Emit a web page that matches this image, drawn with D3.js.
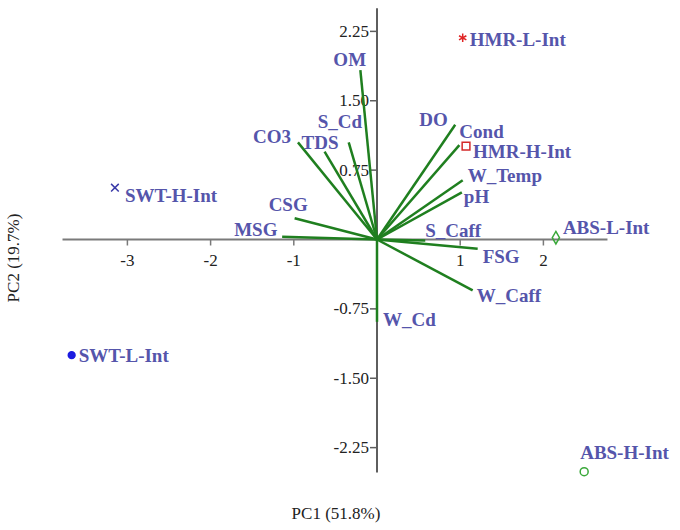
<!DOCTYPE html>
<html>
<head>
<meta charset="utf-8">
<script src="https://cdn.jsdelivr.net/npm/d3@7"></script>
<style>
  body { margin: 0; background: #fff; }
  svg { display: block; }
</style>
</head>
<body>
<div id="chart"></div>
<script>
'use strict';

// loadings (variable vectors)
const loadNames = ['OM', 'S_Cd', 'TDS', 'CO3', 'CSG', 'MSG', 'DO', 'Cond', 'W_Temp', 'pH', 'S_Caff', 'FSG', 'W_Caff', 'W_Cd'];
const loadPC1 = [-0.20, -0.34, -0.63, -0.95, -0.99, -1.14, 0.94, 0.99, 1.03, 1.02, 0.58, 1.21, 1.15, 0.00];
const loadPC2 = [1.83, 1.05, 0.95, 1.05, 0.23, 0.03, 1.24, 1.02, 0.64, 0.51, -0.01, -0.10, -0.55, -0.89];

// scores (sites)
const scoreNames = ['HMR-L-Int', 'HMR-H-Int', 'SWT-H-Int', 'SWT-L-Int', 'ABS-L-Int', 'ABS-H-Int'];
const scorePC1 = [1.03, 1.07, -3.15, -3.67, 2.15, 2.49];
const scorePC2 = [2.18, 1.01, 0.56, -1.25, 0.02, -2.51];

// tick values
const xTicks = [-3, -2, -1, 1, 2];
const yTicks = [2.25, 1.50, 0.75, -0.75, -1.50, -2.25];

const xTitle = 'PC1 (51.8%)';
const yTitle = 'PC2 (19.7%)';

// label placement, pixels from the point
const labelOffset = {
    'OM': [-27, -4], 'S_Cd': [-31, -14], 'TDS': [-23, -3], 'CO3': [-45, 1],
    'CSG': [-26, -7], 'MSG': [-48, -1], 'DO': [-36, 1], 'Cond': [0, -7],
    'W_Temp': [5, 2], 'pH': [2, 11], 'S_Caff': [0, -3], 'FSG': [5, 14],
    'W_Caff': [4, 12], 'W_Cd': [6, 4],
    'HMR-L-Int': [7, 8], 'HMR-H-Int': [7, 12], 'SWT-H-Int': [10, 14],
    'SWT-L-Int': [7, 7], 'ABS-L-Int': [7, -4], 'ABS-H-Int': [-4, -13]
};

const W = 680, H = 530;

const svg = d3.select('#chart').append('svg')
    .attr('width', W)
    .attr('height', H);

// scales: 0 sits where the axes cross
const x = d3.scaleLinear().domain([0, 1]).range([377, 460.2]);
const y = d3.scaleLinear().domain([0, 1]).range([239.5, 147]);

const axisColor = '#7a7a7a';
const lineColor = '#1f7f1f';
const textColor = '#5555ab';
const serif = '"Liberation Serif", "Times New Roman", serif';

// horizontal axis
svg.append('line')
    .attr('x1', x(-3.78)).attr('x2', x(2.77))
    .attr('y1', y(0)).attr('y2', y(0))
    .attr('stroke', axisColor).attr('stroke-width', 2);

svg.selectAll('.xtick')
    .data(xTicks)
    .enter()
    .append('line')
    .attr('x1', d => x(d)).attr('x2', d => x(d))
    .attr('y1', y(0)).attr('y2', y(0) + 6)
    .attr('stroke', axisColor).attr('stroke-width', 1.5);

svg.selectAll('.xlab')
    .data(xTicks)
    .enter()
    .append('text')
    .attr('x', d => x(d))
    .attr('y', y(0) + 26)
    .attr('text-anchor', 'middle')
    .attr('font-family', serif)
    .attr('font-size', 17)
    .attr('fill', '#222')
    .text(d => String(d));

// vertical axis
svg.append('line')
    .attr('x1', x(0)).attr('x2', x(0))
    .attr('y1', y(2.5)).attr('y2', y(-2.52))
    .attr('stroke', '#5e5e5e').attr('stroke-width', 2);

svg.selectAll('.ytick')
    .data(yTicks)
    .enter()
    .append('line')
    .attr('x1', x(0) - 7).attr('x2', x(0))
    .attr('y1', d => y(d)).attr('y2', d => y(d))
    .attr('stroke', '#5e5e5e').attr('stroke-width', 1.5);

svg.selectAll('.ylab')
    .data(yTicks)
    .enter()
    .append('text')
    .attr('x', x(0) - 8)
    .attr('y', d => y(d))
    .attr('dy', '0.33em')
    .attr('text-anchor', 'end')
    .attr('font-family', serif)
    .attr('font-size', 17)
    .attr('fill', '#222')
    .text(d => d.toFixed(2));

// loading vectors
const loads = loadNames.map((n, i) => ({ name: n, pc1: loadPC1[i], pc2: loadPC2[i] }));

svg.selectAll('.load')
    .data(loads)
    .enter()
    .append('line')
    .attr('x1', x(0)).attr('y1', y(0))
    .attr('x2', d => x(d.pc1)).attr('y2', d => y(d.pc2))
    .attr('stroke', lineColor)
    .attr('stroke-width', 2.5);

svg.selectAll('.loadlab')
    .data(loads)
    .enter()
    .append('text')
    .attr('x', d => x(d.pc1) + labelOffset[d.name][0])
    .attr('y', d => y(d.pc2) + labelOffset[d.name][1])
    .attr('font-family', serif)
    .attr('font-weight', 'bold')
    .attr('font-size', 19)
    .attr('fill', textColor)
    .text(d => d.name);

// site scores
const scores = scoreNames.map((n, i) => ({ name: n, pc1: scorePC1[i], pc2: scorePC2[i] }));

const symbols = {
    'HMR-L-Int': { type: d3.symbolAsterisk, size: 50, fill: 'none', stroke: '#e02424' },
    'HMR-H-Int': { type: d3.symbolSquare, size: 60, fill: 'none', stroke: '#d42a2a' },
    'SWT-H-Int': { type: d3.symbolTimes, size: 40, fill: 'none', stroke: '#3a3aa8' },
    'SWT-L-Int': { type: d3.symbolCircle, size: 36, fill: '#1c1ce0', stroke: '#1c1ce0' },
    'ABS-L-Int': { type: d3.symbolDiamond, size: 45, fill: 'none', stroke: '#3aa83a' },
    'ABS-H-Int': { type: d3.symbolCircle, size: 50, fill: 'none', stroke: '#3aa83a' }
};

svg.selectAll('.score')
    .data(scores)
    .enter()
    .append('path')
    .attr('transform', d => `translate(${x(d.pc1)},${y(d.pc2)})`)
    .attr('d', d => d3.symbol().type(symbols[d.name].type).size(symbols[d.name].size)())
    .attr('fill', d => symbols[d.name].fill)
    .attr('stroke', d => symbols[d.name].stroke)
    .attr('stroke-width', 1.5);

svg.selectAll('.scorelab')
    .data(scores)
    .enter()
    .append('text')
    .attr('x', d => x(d.pc1) + labelOffset[d.name][0])
    .attr('y', d => y(d.pc2) + labelOffset[d.name][1])
    .attr('font-family', serif)
    .attr('font-weight', 'bold')
    .attr('font-size', 19)
    .attr('fill', textColor)
    .text(d => d.name);

// axis titles
svg.append('text')
    .attr('x', 336).attr('y', 519)
    .attr('text-anchor', 'middle')
    .attr('font-family', serif)
    .attr('font-size', 17)
    .attr('fill', '#222')
    .text(xTitle);

svg.append('text')
    .attr('transform', 'translate(19,258) rotate(-90)')
    .attr('text-anchor', 'middle')
    .attr('font-family', serif)
    .attr('font-size', 17)
    .attr('fill', '#222')
    .text(yTitle);
</script>
</body>
</html>
